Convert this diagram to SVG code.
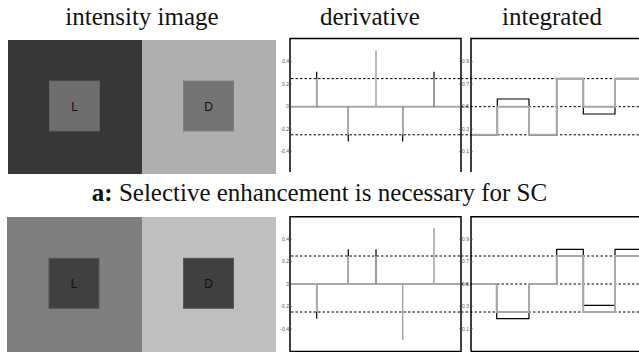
<svg xmlns="http://www.w3.org/2000/svg" width="639" height="352" viewBox="0 0 639 352">
<style>
.title{font-family:"Liberation Serif","Times New Roman",serif;font-size:25px;fill:#111}
.cap{font-family:"Liberation Serif","Times New Roman",serif;font-size:25px;fill:#111}
.lab{font-family:"Liberation Sans",Arial,sans-serif;font-size:12px;fill:#111;text-anchor:middle}
.tick{font-family:"Liberation Sans",Arial,sans-serif;font-size:5px;fill:#555;text-anchor:end}
.axis{fill:none;stroke:#000;stroke-width:1.5}
.dash{fill:none;stroke:#000;stroke-width:1;stroke-dasharray:2.5 2}
.gray{fill:none;stroke:#a9a9a9;stroke-width:2}
.blk{fill:none;stroke:#000;stroke-width:1.2}
.sq{stroke-width:1}
.tk{stroke:#555;stroke-width:0.6}
</style>

<text class="title" x="142" y="25" text-anchor="middle">intensity image</text>
<text class="title" x="370" y="25" text-anchor="middle">derivative</text>
<text class="title" x="552" y="25" text-anchor="middle">integrated</text>
<text class="cap" x="319.5" y="201" text-anchor="middle"><tspan font-weight="bold">a:</tspan> Selective enhancement is necessary for SC</text>

<!-- Top intensity image -->
<g id="img-top">
<rect x="8" y="40" width="134" height="134" fill="#373737"/>
<rect x="142" y="40" width="134" height="134" fill="#afafaf"/>
<rect x="49.5" y="81" width="50" height="50" fill="#6e6e6e" stroke="#616161" class="sq"/>
<rect x="183.5" y="81" width="50" height="50" fill="#737373" stroke="#7e7e7e" class="sq"/>
<text class="lab" x="74.5" y="110.5">L</text>
<text class="lab" x="208.5" y="110.5">D</text>
</g>

<!-- Bottom intensity image -->
<g id="img-bottom">
<rect x="7" y="217" width="135" height="135" fill="#7f7f7f"/>
<rect x="142" y="217" width="134" height="135" fill="#bfbfbf"/>
<rect x="49" y="258.3" width="50" height="50" fill="#404040" stroke="#555" class="sq"/>
<rect x="183.5" y="258.3" width="50" height="50" fill="#404040" stroke="#555" class="sq"/>
<text class="lab" x="74" y="288">L</text>
<text class="lab" x="208.5" y="288">D</text>
</g>

<!-- Top derivative plot -->
<g id="deriv-top">
<path class="axis" d="M290,172 V38.5 H461 V172"/>
<text class="tick" x="289" y="63.4">0.4</text>
<text class="tick" x="289" y="85.9">0.2</text>
<text class="tick" x="289" y="108.4">0</text>
<text class="tick" x="289" y="130.9">-0.2</text>
<text class="tick" x="289" y="153.4">-0.4</text>
<path class="tk" d="M290,61.7h2M290,84.2h2M290,106.7h2M290,129.2h2M290,151.7h2M461,61.7h-2M461,84.2h-2M461,106.7h-2M461,129.2h-2M461,151.7h-2"/>
<path class="dash" d="M291,78.6H460M291,134.8H460"/>
<path class="gray" d="M291,106.7H460"/>
<path class="blk" d="M316.7,106.7V71.8M348.3,106.7V141.6M402.7,106.7V141.6M434,106.7V71.8"/>
<path class="gray" style="stroke-width:1.6" d="M316.7,106.7V78.6M348.3,106.7V134.8M376,106.7V50.5M402.7,106.7V134.8M434,106.7V78.6"/>
</g>

<!-- Top integrated plot -->
<g id="integ-top">
<path class="axis" d="M471,172 V38.5 H640"/>
<text class="tick" x="469" y="63.4">0.9</text>
<text class="tick" x="469" y="85.9">0.7</text>
<text class="tick" x="469" y="108.4">0.5</text>
<text class="tick" x="469" y="130.9">0.3</text>
<text class="tick" x="469" y="153.4">0.1</text>
<path class="tk" d="M471,61.7h2M471,84.2h2M471,106.7h2M471,129.2h2M471,151.7h2"/>
<path class="dash" d="M461,78.6H639M461,106.7H639M461,134.8H639"/>
<path class="blk" d="M472,134.8H497.3V99H529V134.8H556.7V78.6H583.3V114H615V78.6H639"/>
<path class="gray" d="M472,134.8H497.3V106.7H529V134.8H556.7V78.6H583.3V106.7H615V78.6H639"/>
</g>

<!-- Bottom derivative plot -->
<g id="deriv-bottom">
<path class="axis" d="M290,351.5 V216.7 H461 V351.5 Z"/>
<text class="tick" x="289" y="240.9">0.4</text>
<text class="tick" x="289" y="263.3">0.2</text>
<text class="tick" x="289" y="285.7">0</text>
<text class="tick" x="289" y="308.1">-0.2</text>
<text class="tick" x="289" y="330.5">-0.4</text>
<path class="tk" d="M290,239.2h2M290,261.6h2M290,284h2M290,306.4h2M290,328.8h2M461,239.2h-2M461,261.6h-2M461,284h-2M461,306.4h-2M461,328.8h-2"/>
<path class="dash" d="M291,256H460M291,312H460"/>
<path class="gray" d="M291,284H460"/>
<path class="blk" d="M316.7,284V318.7M348.3,284V249.3M376,284V249.3"/>
<path class="gray" style="stroke-width:1.6" d="M316.7,284V312M348.3,284V256M376,284V256M402.7,284V340M434,284V228"/>
</g>

<!-- Bottom integrated plot -->
<g id="integ-bottom">
<path class="axis" d="M471,351.5 V216.7 H640 M471,351.5H640"/>
<text class="tick" x="469" y="240.9">0.9</text>
<text class="tick" x="469" y="263.3">0.7</text>
<text class="tick" x="469" y="285.7">0.5</text>
<text class="tick" x="469" y="308.1">0.3</text>
<text class="tick" x="469" y="330.5">0.1</text>
<path class="tk" d="M471,239.2h2M471,261.6h2M471,284h2M471,306.4h2M471,328.8h2"/>
<path class="dash" d="M461,256H639M461,284H639M461,312H639"/>
<path class="blk" d="M472,284H496.7V318.7H529V284H556.7V249.3H583.3V305.3H615V249.3H639"/>
<path class="gray" d="M472,284H496.7V312H529V284H556.7V256H583.3V312H615V256H639"/>
</g>
</svg>
